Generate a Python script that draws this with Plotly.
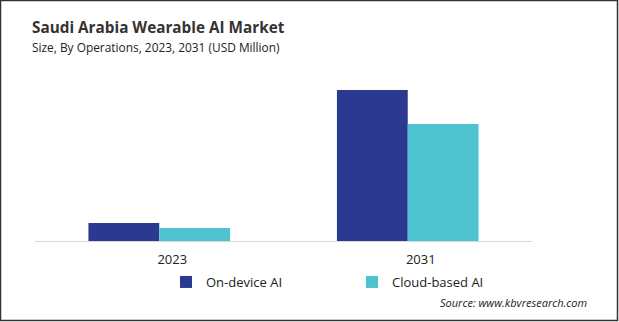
import plotly.graph_objects as go

# Market size by operation type (USD Million)
years = ["2023", "2031"]
on_device = [18, 151]
cloud_based = [13, 117]

W, H = 619, 322
ML, MR, MT, MB = 35, 87, 70, 81
PW, PH = W - ML - MR, H - MT - MB

NAVY = "#2B3990"
CYAN = "#4FC3CF"
FONT = "Open Sans, Noto Sans, sans-serif"

fig = go.Figure()
fig.add_trace(go.Bar(name="On-device AI", x=years, y=on_device, legend="legend",
                     marker=dict(color=NAVY, line=dict(width=0))))
fig.add_trace(go.Bar(name="Cloud-based AI", x=years, y=cloud_based, legend="legend2",
                     marker=dict(color=CYAN, line=dict(width=0))))

def px_x(p):
    return (p - ML) / PW

def px_y(p):
    return (H - MB - p) / PH

def legend_at(px):
    return dict(orientation="h", x=px_x(px), y=px_y(282), yanchor="middle",
                xanchor="left", itemwidth=30,
                font=dict(size=13, color="#222222"),
                bgcolor="rgba(0,0,0,0)")

fig.update_layout(
    width=W, height=H,
    margin=dict(l=ML, r=MR, t=MT, b=MB),
    paper_bgcolor="white", plot_bgcolor="white",
    barmode="group", bargap=0.43, bargroupgap=0,
    font=dict(family=FONT, color="#222222"),
    showlegend=True,
    legend=legend_at(166),
    legend2=legend_at(352),
    xaxis=dict(showgrid=False, showline=True, linecolor="#D9D9D9", linewidth=1,
               ticks="", tickfont=dict(size=13, color="#222222"),
               ticklabelshift=13, ticklabelstandoff=6, fixedrange=True),
    yaxis=dict(visible=False, range=[0, PH], fixedrange=True),
    annotations=[
        dict(text="<b>Saudi Arabia Wearable AI Market</b>", x=px_x(30), y=px_y(27),
             xref="paper", yref="paper", xanchor="left", yanchor="middle",
             showarrow=False, font=dict(size=15.3, color="#333333", family=FONT)),
        dict(text="Size, By Operations, 2023, 2031 (USD Million)", x=px_x(30), y=px_y(47),
             xref="paper", yref="paper", xanchor="left", yanchor="middle",
             showarrow=False, font=dict(size=11.9, color="#222222", family=FONT)),
        dict(text="<i>Source: www.kbvresearch.com</i>", x=px_x(589), y=px_y(302),
             xref="paper", yref="paper", xanchor="right", yanchor="middle",
             showarrow=False, font=dict(size=11, color="#222222", family=FONT)),
    ],
    shapes=[
        dict(type="rect", xref="paper", yref="paper",
             x0=px_x(0.5), x1=px_x(W - 1.5), y0=px_y(H - 1.5), y1=px_y(0.5),
             line=dict(color="#333333", width=1.5), fillcolor="rgba(0,0,0,0)",
             layer="above"),
    ],
)

fig.write_html("out.html")
